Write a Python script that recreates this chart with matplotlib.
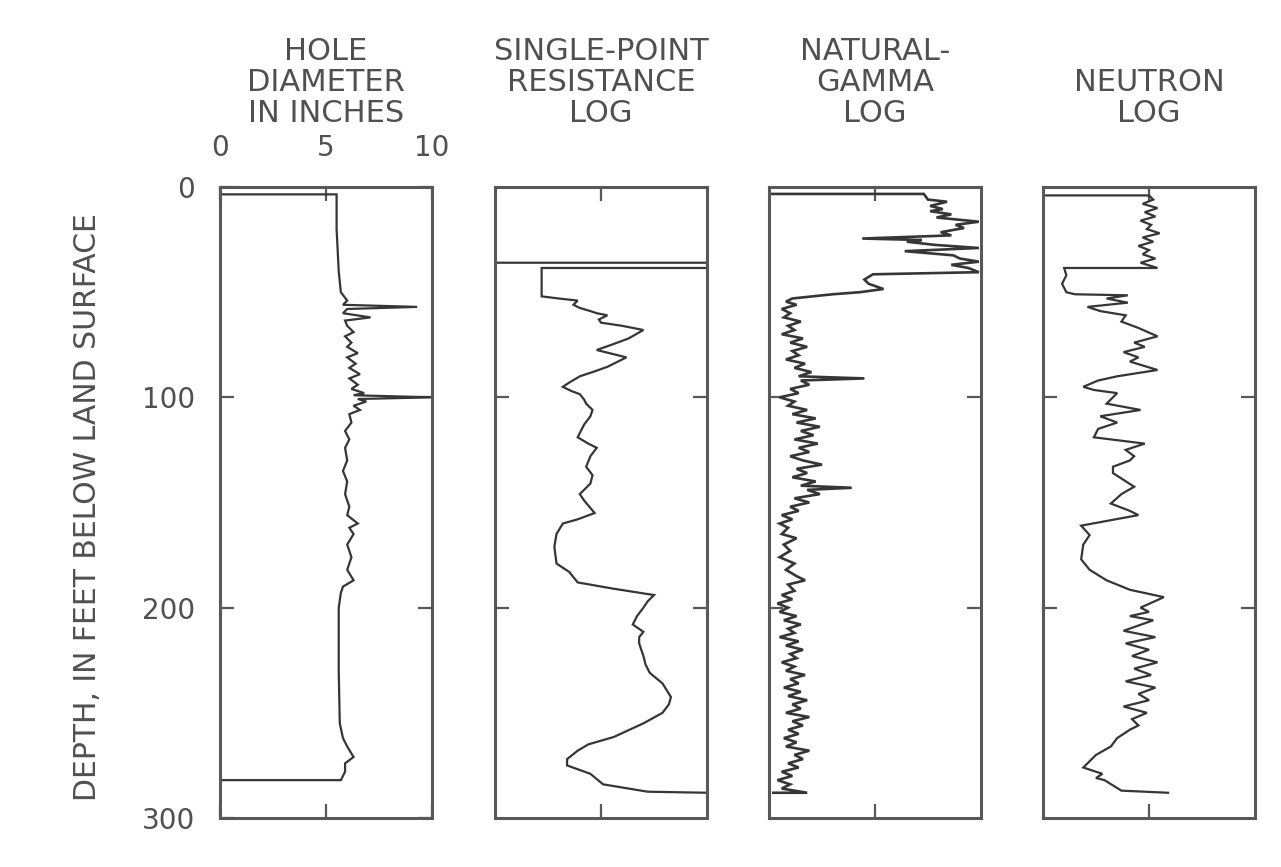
import numpy as np
import matplotlib
matplotlib.use("Agg")
import matplotlib.pyplot as plt

# borehole geophysical logs, depth in feet below land surface

# hole diameter (caliper), inches
caliper_val = [0.0, 5.5, 5.5, 5.6, 5.7, 6.0, 5.8, 9.3, 6.0, 5.8, 7.1, 5.9, 6.0, 6.3, 5.9, 6.2,
               6.0, 6.5, 6.0, 6.4, 6.1, 6.6, 6.1, 6.5, 6.2, 6.8, 6.3, 10.0, 6.5, 6.9, 6.3, 6.6,
               6.1, 6.2, 5.9, 6.1, 5.9, 6.0, 5.8, 6.0, 5.9, 6.1, 6.0, 6.5, 6.1, 6.3, 6.0, 6.2,
               6.0, 6.3, 5.8, 5.7, 5.6, 5.6, 5.65, 5.8, 6.0, 6.3, 5.9, 5.9, 5.7, 0.0]
caliper_depth = [3.5, 3.5, 20, 40, 50, 54, 56, 57, 58, 60, 62, 63.5, 66, 69, 71, 74,
                 76, 79, 81, 84, 86, 89, 91, 94, 96, 98, 99, 100, 100.8, 102, 104, 106,
                 108, 112, 116, 120, 124, 130, 135, 140, 146, 152, 156, 160, 162, 165, 170, 176,
                 182, 187, 190, 193, 200, 230, 255, 262, 266, 271, 274, 278, 282, 282]

# single-point resistance (relative units)
resist_val = [0, 10, 10, 2.2, 2.2, 3.0, 3.9, 3.7, 4.0, 4.5, 4.8, 5.3, 4.9, 5.0, 6.0, 7.0,
              6.3, 5.5, 4.8, 5.4, 6.2, 5.6, 5.3, 4.6, 4.0, 3.5, 3.2, 3.6, 4.0, 4.2, 4.3, 4.6,
              4.5, 4.2, 3.9, 4.4, 4.8, 4.5, 4.3, 4.6, 4.5, 4.0, 4.2, 4.7, 3.9, 3.2, 2.9, 2.8,
              2.9, 3.5, 3.9, 5.6, 7.5, 7.2, 7.0, 6.7, 6.5, 7.0, 6.8, 6.8, 7.0, 7.1, 7.3, 7.9,
              8.3, 8.2, 7.9, 7.0, 5.6, 4.4, 3.9, 3.4, 3.4, 4.5, 5.1, 7.2, 10]
resist_depth = [36, 36, 38.5, 38.5, 52, 53, 54, 56, 57.5, 59, 60, 61, 63, 64.5, 66, 68,
                72, 75, 77.5, 79, 81, 84, 85.5, 88, 90, 93, 95, 97, 98.5, 101, 103, 106,
                109, 113, 119, 122, 124, 128, 133, 137, 141, 146, 149, 155, 158, 160, 165, 171,
                179, 183, 188, 191, 194, 197, 200, 204, 208, 211.5, 214, 217, 223, 227, 231, 236,
                242.5, 246, 250, 255, 261.5, 265, 268, 272, 275, 279, 284, 287.5, 288]

# natural gamma (relative units)
gamma_val = [0, 7.3, 7.5, 8.4, 7.6, 8.2, 7.6, 8.6, 7.9, 9.9, 8.8, 9.2, 8.1, 8.6, 4.4, 7.2,
             6.5, 7.8, 9.9, 6.4, 8.7, 9.0, 9.9, 8.6, 9.4, 9.9, 4.9, 4.5, 4.7, 5.4, 4.3, 3.0,
             1.1, 0.8, 1.3, 0.6, 1.0, 0.7, 1.5, 0.9, 1.2, 0.6, 1.6, 1.0, 1.8, 1.1, 1.4, 0.8,
             1.7, 1.2, 2.0, 1.4, 4.5, 1.5, 1.9, 1.0, 1.4, 0.5, 1.2, 0.9, 1.8, 1.1, 2.2, 1.3,
             2.4, 1.5, 2.1, 1.2, 2.3, 1.4, 1.9, 1.0, 1.6, 2.5, 1.3, 1.8, 1.1, 2.2, 1.5, 3.9,
             1.8, 2.4, 1.2, 1.9, 1.0, 1.4, 0.6, 1.1, 0.5, 0.9, 0.6, 1.3, 0.7, 1.0, 0.5, 1.2,
             0.8, 1.3, 1.7, 0.9, 1.2, 0.6, 1.1, 0.4, 0.9, 0.5, 1.3, 0.7, 1.5, 0.9, 1.2, 0.5,
             1.4, 0.8, 1.6, 1.0, 1.3, 0.6, 1.2, 0.8, 1.7, 1.0, 1.4, 0.7, 1.5, 0.9, 1.8, 1.1,
             1.5, 0.8, 1.9, 1.1, 1.6, 0.9, 1.4, 0.7, 1.3, 0.8, 1.9, 1.2, 1.6, 0.9, 1.4, 0.6,
             1.1, 0.4, 1.0, 0.6, 1.8, 0.2]
gamma_depth = [3.3, 3.3, 6, 7, 9, 10.5, 11.5, 13, 14.5, 16.5, 18, 19.5, 21.5, 23, 24.5, 25.2,
               26, 27.5, 29, 30.5, 32.5, 34, 35.5, 37, 38.5, 40.5, 41.5, 44, 46, 48.5, 50, 51,
               53, 54.5, 56, 58, 60, 62, 64, 66, 68, 70, 72, 74, 76, 78, 80, 82,
               84, 86, 88, 90, 91, 92, 94, 96, 98, 100, 102, 104, 106, 108, 110, 112,
               114, 116, 118, 120, 122, 124, 126, 128, 130, 132, 134, 136, 138, 140, 142, 143,
               144, 146, 148, 150, 152, 154, 156, 158, 160, 162, 165, 167, 170, 173, 176, 179,
               182, 185, 187, 189, 192, 194, 196, 198, 200, 202, 204, 206, 208, 210, 212, 214,
               216, 218, 220, 222, 224, 226, 228, 230, 232, 234, 236, 238, 240, 242, 244, 246,
               248, 250, 252, 254, 256, 258, 260, 262, 264, 266, 268, 270, 272, 274, 276, 278,
               280, 282, 284, 286, 288, 288]

# neutron (relative units)
neutron_val = [0, 5.0, 5.2, 4.7, 5.4, 4.8, 5.3, 4.6, 5.1, 4.9, 5.5, 4.7, 5.2, 4.5, 5.0, 4.7,
               5.3, 4.6, 5.4, 1.0, 1.1, 0.9, 1.1, 1.5, 4.0, 3.0, 4.0, 2.1, 2.7, 3.9, 3.7, 4.5,
               5.4, 4.3, 4.8, 3.8, 4.5, 4.1, 5.4, 3.5, 2.6, 1.9, 2.4, 3.5, 3.0, 4.6, 2.7, 3.5,
               2.6, 2.4, 4.8, 3.9, 4.3, 4.1, 3.3, 3.3, 4.3, 3.7, 3.2, 4.1, 4.5, 1.8, 2.2, 1.9,
               1.8, 2.2, 3.0, 4.1, 5.7, 4.6, 5.0, 4.1, 5.2, 3.8, 5.3, 3.9, 5.0, 4.2, 5.4, 4.3,
               5.1, 3.9, 5.3, 4.5, 5.0, 3.8, 4.9, 4.2, 4.5, 4.1, 3.5, 3.2, 2.5, 1.9, 2.8, 2.5,
               2.9, 3.7, 5.9]
neutron_depth = [4, 4, 6, 8, 10, 12, 14, 16, 18, 20, 22, 24, 26, 28, 30, 32,
                 34, 36, 38.5, 38.5, 42, 46, 50, 51, 51.5, 53, 55, 57, 59, 61, 64, 67,
                 71, 74, 76, 78.5, 81, 83, 87, 90, 92, 95, 96.5, 98, 103, 106, 109, 112,
                 115, 119, 122, 125, 128, 130, 133, 136, 142.5, 146, 150.5, 154, 156, 161, 165.5, 170,
                 177, 182, 187, 191.5, 195, 200, 202, 204, 206, 211, 214, 217, 220, 223, 226, 229,
                 232, 235, 238, 241, 244, 247, 250, 253, 256, 258, 262, 266, 270, 276, 279, 281,
                 282, 287, 288]

titles = ["HOLE\nDIAMETER\nIN INCHES", "SINGLE-POINT\nRESISTANCE\nLOG",
          "NATURAL-\nGAMMA\nLOG", "NEUTRON\nLOG"]
depth_ticks = [0, 100, 200, 300]
diam_ticks = [0, 5, 10]

logs = [(caliper_val, caliper_depth), (resist_val, resist_depth),
        (gamma_val, gamma_depth), (neutron_val, neutron_depth)]

txt = "#505050"
frame = "#585858"
ink = "#363636"

plt.rcParams['font.family'] = ['DejaVu Sans']

fig = plt.figure(figsize=(12.81, 8.67), dpi=100)
W, H = 1281, 867
lefts = [220, 495, 769, 1043]
top, bottom, width = 187, 818, 212

for i, (vals, deps) in enumerate(logs):
    ax = fig.add_axes([lefts[i] / W, 1 - bottom / H, width / W, (bottom - top) / H])
    ax.plot(vals, deps, color=ink, lw=1.9 if i == 2 else 1.6, solid_joinstyle="miter")
    ax.set_xlim(0, 10)
    ax.set_ylim(300, 0)
    for s in ax.spines.values():
        s.set_color(frame)
        s.set_linewidth(2.2)
    ax.set_xticks([5] if i else diam_ticks)
    ax.set_yticks([100, 200])
    ax.tick_params(direction="in", length=10, width=1.6, color=frame,
                   top=True, bottom=True, left=True, right=True,
                   labelbottom=False, labelleft=False, labeltop=(i == 0))
    if i == 0:
        ax.set_yticks(depth_ticks)
        ax.tick_params(axis="y", labelleft=True, pad=18, labelsize=20, labelcolor=txt)
        ax.tick_params(axis="x", pad=18, labelsize=20, labelcolor=txt)
    cx = (lefts[i] + width / 2) / W
    fig.text(cx, 1 - 122 / H, titles[i], ha="center", va="baseline", multialignment="center",
             fontsize=22, color=txt, linespacing=1.08)

fig.text(88 / W, 1 - 507 / H, "DEPTH, IN FEET BELOW LAND SURFACE", rotation=90,
         ha="center", va="center", fontsize=21.5, color=txt)

fig.savefig("out.png", dpi=100, facecolor="white")
